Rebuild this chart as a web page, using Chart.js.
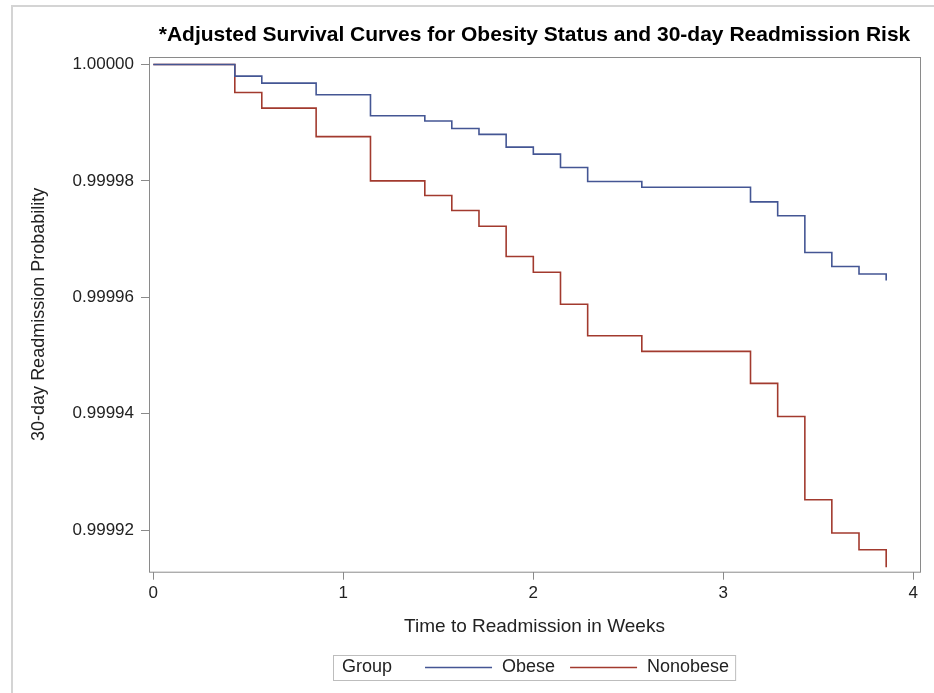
<!DOCTYPE html>
<html>
<head>
<meta charset="utf-8">
<script src="https://cdn.jsdelivr.net/npm/chart.js@4.4.0/dist/chart.umd.min.js"></script>
<style>
body{margin:0;background:#fff;}
#wrap{position:relative;width:934px;height:693px;}
#edge{position:absolute;left:11px;top:5px;right:0;bottom:0;border-left:2px solid #d4d4d4;border-top:2px solid #d4d4d4;}
#km{position:absolute;left:0;top:0;}
</style>
</head>
<body>
<div id="wrap"><div id="edge"></div><canvas id="km" width="934" height="693"></canvas></div>
<script>
// event times (weeks) and adjusted survival
let weeks = [0, 0.429, 0.571, 0.857, 1.143, 1.429, 1.571, 1.714, 1.857, 2.0, 2.143, 2.286, 2.571, 3.143, 3.286, 3.429, 3.571, 3.714, 3.857];
let obese = [1.0000000, 0.9999980, 0.9999968, 0.9999948, 0.9999912, 0.9999903, 0.9999890, 0.9999880, 0.9999858, 0.9999846,
             0.9999823, 0.9999799, 0.9999789, 0.9999764, 0.9999740, 0.9999677, 0.9999653, 0.9999640, 0.9999629];
let nonobese = [1.0000000, 0.9999952, 0.9999925, 0.9999876, 0.9999800, 0.9999775, 0.9999749, 0.9999722, 0.9999670, 0.9999643,
                0.9999588, 0.9999534, 0.9999507, 0.9999452, 0.9999395, 0.9999252, 0.9999195, 0.9999166, 0.9999136];
let xTicks = [0, 1, 2, 3, 4];
let yTicks = [0.99992, 0.99994, 0.99996, 0.99998, 1.00000];

let FONT = "'Liberation Sans', Arial, sans-serif";
Chart.defaults.font.family = FONT;
Chart.defaults.color = '#222';

let pts = arr => weeks.map((w, i) => ({x: w, y: arr[i]}));

let frame = {
  id: 'frame',
  afterDatasetsDraw(chart) {
    let {ctx, chartArea: a} = chart;
    ctx.save();
    ctx.strokeStyle = '#8a8a8a';
    ctx.lineWidth = 1;
    ctx.strokeRect(a.left + 0.5, a.top + 0.5, a.right - a.left, a.bottom - a.top);
    ctx.restore();
  }
};

// SAS-style boxed legend: "Group  ---- Obese  ---- Nonobese"
let groupLegend = {
  id: 'groupLegend',
  afterDraw(chart) {
    let ctx = chart.ctx;
    let y = 667.5, x0 = 333, x = x0 + 9;
    ctx.save();
    ctx.font = '18px ' + FONT;
    ctx.textBaseline = 'middle';
    ctx.fillStyle = '#222';
    ctx.fillText('Group', x, y);
    x += ctx.measureText('Group').width + 33;
    chart.data.datasets.forEach(ds => {
      ctx.strokeStyle = ds.borderColor;
      ctx.lineWidth = 1.6;
      ctx.beginPath(); ctx.moveTo(x, y); ctx.lineTo(x + 67, y); ctx.stroke();
      x += 77;
      ctx.fillText(ds.label, x, y);
      x += ctx.measureText(ds.label).width + 15;
    });
    ctx.strokeStyle = '#bdbdbd';
    ctx.lineWidth = 1;
    ctx.strokeRect(x0 + 0.5, 655.5, x - 15 + 6 - x0, 25);
    ctx.restore();
  }
};

new Chart(document.getElementById('km'), {
  type: 'line',
  data: {
    datasets: [
      {label: 'Obese', data: pts(obese), borderColor: '#445694', borderWidth: 1.6, pointRadius: 0, stepped: true, fill: false},
      {label: 'Nonobese', data: pts(nonobese), borderColor: '#a23a2e', borderWidth: 1.6, pointRadius: 0, stepped: true, fill: false}
    ]
  },
  options: {
    responsive: false,
    animation: false,
    layout: {padding: {left: 0, right: 14, top: 0, bottom: 0}},
    plugins: {
      legend: {display: false},
      tooltip: {enabled: false},
      title: {
        display: true,
        text: '*Adjusted Survival Curves for Obesity Status and 30-day Readmission Risk',
        font: {size: 21, weight: 'bold'},
        color: '#000',
        fullSize: false,
        padding: {top: 22.4, bottom: 9.4}
      }
    },
    scales: {
      x: {
        type: 'linear', min: -0.0226, max: 4.035,
        afterBuildTicks: s => { s.ticks = xTicks.map(v => ({value: v})); },
        afterFit: s => { s.height = 121.3; },
        grid: {drawOnChartArea: false, drawTicks: true, tickLength: 8, color: '#8a8a8a'},
        border: {display: false},
        ticks: {font: {size: 17}, color: '#222', padding: 3, callback: v => String(v)},
        title: {display: true, text: 'Time to Readmission in Weeks', font: {size: 19}, color: '#222', padding: {top: 0, bottom: 54.6}}
      },
      y: {
        type: 'linear', min: 0.99991284, max: 1.00000129,
        afterBuildTicks: s => { s.ticks = yTicks.map(v => ({value: v})); },
        afterFit: s => { s.width = 149; },
        grid: {drawOnChartArea: false, drawTicks: true, tickLength: 8, color: '#8a8a8a'},
        border: {display: false},
        ticks: {font: {size: 17}, color: '#222', padding: 7, callback: v => v.toFixed(5)},
        title: {display: true, text: '30-day Readmission Probability', font: {size: 18}, color: '#222', padding: {top: 28, bottom: 0}}
      }
    }
  },
  plugins: [frame, groupLegend]
});
</script>
</body>
</html>
